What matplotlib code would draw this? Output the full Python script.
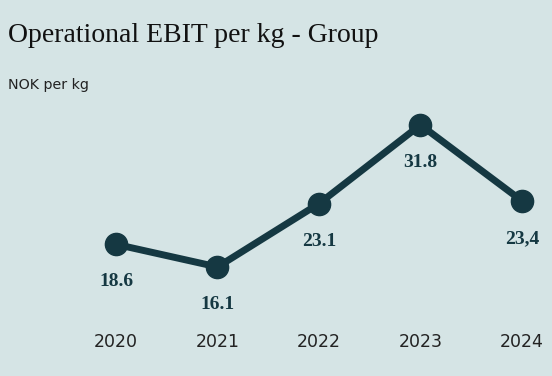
import matplotlib
matplotlib.use("Agg")
import matplotlib.pyplot as plt
import matplotlib.transforms as mtransforms

years = [2020, 2021, 2022, 2023, 2024]
values = [18.6, 16.1, 23.1, 31.8, 23.4]
labels = ["18.6", "16.1", "23.1", "31.8", "23,4"]

bg = "#d5e4e5"
dark = "#153842"

fig = plt.figure(figsize=(5.52, 3.76), dpi=100, facecolor=bg)
ax = fig.add_axes([0, 0, 1, 1])
ax.set_facecolor(bg)

ax.plot(years, values, color=dark, lw=5, marker="o", ms=16, solid_capstyle="round")

for x, v, lab in zip(years, values, labels):
    ax.annotate(lab, (x, v), xytext=(0, -27), textcoords="offset points",
                ha="center", va="center", fontsize=14, fontweight="bold",
                family="Liberation Serif", color=dark)

trans = mtransforms.blended_transform_factory(ax.transData, ax.transAxes)
for x in years:
    ax.text(x, 1 - 342 / 376, str(x), transform=trans, ha="center", va="center",
            fontsize=12.5, family="DejaVu Sans", color="#222222")

ax.set_xlim(2018.857, 2024.296)
ax.set_ylim(4.05, 45.6)
ax.axis("off")

fig.text(8 / 552, 1 - 36 / 376, "Operational EBIT per kg - Group", ha="left", va="center",
         fontsize=20, family="Liberation Serif", color="#111111")
fig.text(8 / 552, 1 - 85 / 376, "NOK per kg", ha="left", va="center",
         fontsize=10.3, family="DejaVu Sans", color="#222222")

fig.savefig("out.png", dpi=100, facecolor=bg)
